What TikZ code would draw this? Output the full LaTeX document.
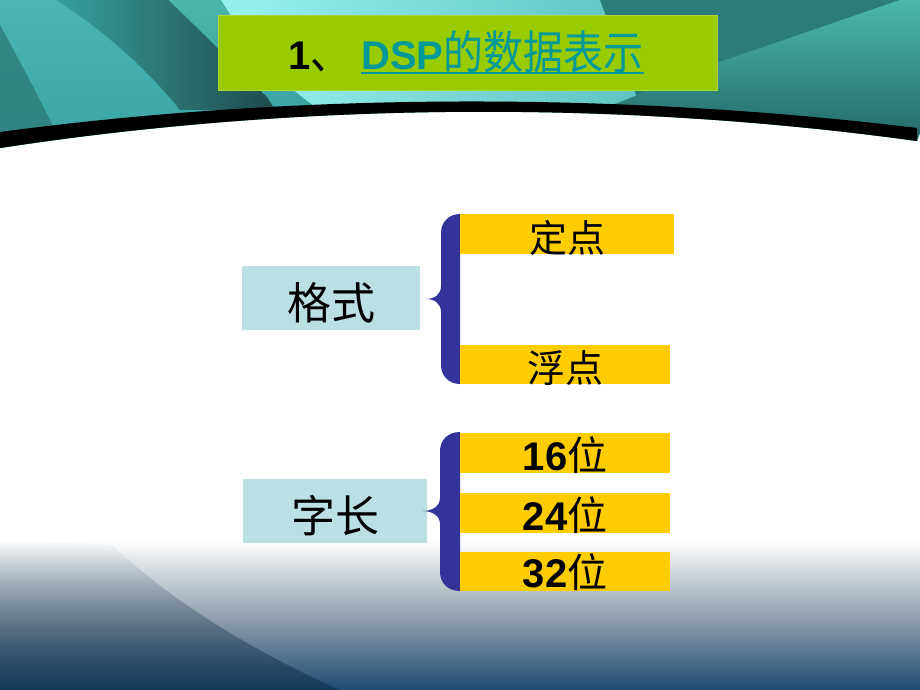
\documentclass[tikz,border=0pt]{standalone}
\usepackage{fontspec}
\setmainfont{Liberation Sans}
\newfontfamily\cjk{Noto Sans CJK SC}
\usetikzlibrary{fadings}
\definecolor{titlegreen}{HTML}{99CC00}
\definecolor{titleteal}{HTML}{00999A}
\definecolor{boxcyan}{HTML}{BBE0E3}
\definecolor{boxyellow}{HTML}{FFCC00}
\definecolor{bracenavy}{HTML}{333399}
\definecolor{tealbase}{HTML}{3AA5A5}
\definecolor{tealdark}{HTML}{183434}
\definecolor{tealmid}{HTML}{2C7C7A}
\definecolor{tealdeep}{HTML}{1F6462}
\definecolor{teallight}{HTML}{98F2F0}
\definecolor{tealsoft}{HTML}{4DB8A8}
\definecolor{navy}{HTML}{1E4A72}
\definecolor{navydark}{HTML}{0F2E48}
\newcommand\mybrace[6]{% left right top bottom tipx tipy
  \fill[bracenavy] (#2,#3) .. controls (#1+8,#3) and (#1,#3+8) .. (#1,#3+19)
    -- (#1,#6-13) .. controls (#1,#6-4) and (#5+8,#6) .. (#5,#6)
    .. controls (#5+8,#6) and (#1,#6+4) .. (#1,#6+13)
    -- (#1,#4-19) .. controls (#1,#4-8) and (#1+8,#4) .. (#2,#4) -- cycle;}
\newcommand\tcjk[1]{{\cjk\mdseries\scalebox{1.0}[1.15]{#1}}}
\tikzset{
  catbox/.style={fill=boxcyan, inner sep=0pt, anchor=north west, text depth=0pt,
    font=\cjk\fontsize{44pt}{44pt}\selectfont},
  item/.style={fill=boxyellow, inner sep=0pt, anchor=north west, text depth=0pt,
    font=\cjk\fontsize{38pt}{38pt}\selectfont},
  numitem/.style={item, font=\fontsize{40pt}{40pt}\selectfont\bfseries},
  titletext/.style={anchor=base west, inner sep=0pt, font=\fontsize{40pt}{40pt}\selectfont\bfseries},
}
\begin{document}
\begin{tikzpicture}[x=1pt,y=-1pt]
\useasboundingbox (0,0) rectangle (920,690);
\fill[white] (0,0) rectangle (920,690);
% ---------- bottom background ----------
\shade[top color=white, bottom color=navy, middle color=white!55!navy!75!gray] (0,540) rectangle (920,690);
\fill[navydark, opacity=0.6, path fading=north] (0,540) -- (112,545) .. controls (170,600) and (250,650) .. (340,690) -- (0,690) -- cycle;
% ---------- top background ----------
\begin{scope}
\clip (0,0) -- (920,0) -- (920,133) -- (917,141) .. controls (620,100) and (300,102) .. (0,148) -- cycle;
\fill[tealbase] (0,0) rectangle (920,150);
\shade[top color=tealbase!80!teallight, bottom color=tealbase] (0,0) rectangle (200,150);
\fill[tealmid, opacity=0.8] (0,25) .. controls (25,70) and (45,110) .. (65,150) -- (0,150) -- cycle;
\shade[left color=tealbase, right color=tealdark!80!tealbase] (40,-10) -- (200,-10) .. controls (225,30) and (250,70) .. (275,110) -- (180,110) .. controls (140,60) and (90,20) .. (40,-10) -- cycle;
\shade[top color=tealsoft, bottom color=tealbase] (158,-10) -- (215,-10) .. controls (245,40) and (275,80) .. (320,110) -- (280,110) .. controls (240,70) and (200,30) .. (158,-10) -- cycle;
\shade[left color=teallight, right color=tealbase!60!teallight] (215,-10) -- (600,-10) -- (640,105) -- (320,110) .. controls (275,80) and (245,40) .. (215,-10) -- cycle;
\fill[tealmid] (600,0) -- (900,0) -- (720,62) -- (640,105) -- cycle;
\shade[top color=tealsoft, bottom color=tealdeep] (900,0) -- (920,0) -- (920,150) -- (600,110) -- (720,62) -- cycle;
\end{scope}
% black arc band
\fill[black] (0,132) .. controls (300,92) and (620,92) .. (917,128) -- (917,141) .. controls (620,100) and (300,102) .. (0,148) -- cycle;
% ---------- title ----------
\node[fill=titlegreen, draw=titlegreen!80!white, minimum width=499pt, minimum height=75pt, anchor=north west, inner sep=0pt] (tb) at (218,15) {};
\node[titletext] (t1) at (288,70) {1\tcjk{、}};
\node[titletext, text=titleteal] (t2) at (361,70) {DSP\tcjk{的数据表示}};
\draw[titleteal, line width=2.5pt] ([yshift=-3pt]t2.base west) -- ([yshift=-3pt]t2.base east);
% ---------- format group ----------
\node[catbox, minimum width=178pt, minimum height=64pt, text height=42pt] (gs) at (242,266) {格式};
\mybrace{441}{460}{214}{384}{426}{299}
\node[item, minimum width=214pt, minimum height=40pt, text height=36pt] (dd) at (460,214) {定点};
\node[item, minimum width=210pt, minimum height=39pt, text height=35pt] (fd) at (460,345) {浮点};
% ---------- word length group ----------
\node[catbox, minimum width=184pt, minimum height=64pt, text height=42pt] (zc) at (243,479) {字长};
\mybrace{440}{460}{432}{591}{423}{511}
\node[numitem, minimum width=210pt, minimum height=40pt, text height=34pt] (b16) at (460,433) {16{\cjk\mdseries 位}};
\node[numitem, minimum width=210pt, minimum height=40pt, text height=34pt] (b24) at (460,493) {24{\cjk\mdseries 位}};
\node[numitem, minimum width=210pt, minimum height=39pt, text height=32pt] (b32) at (460,552) {32{\cjk\mdseries 位}};
\end{tikzpicture}
\end{document}
